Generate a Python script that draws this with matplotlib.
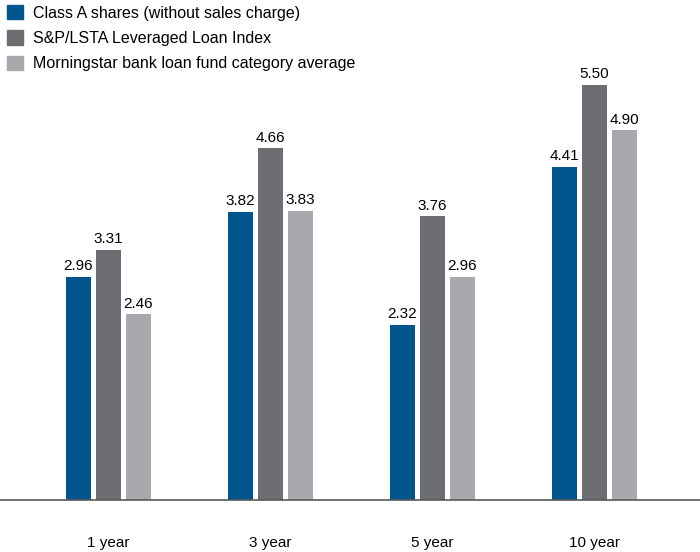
import numpy as np
import matplotlib
matplotlib.use("Agg")
import matplotlib.pyplot as plt
from matplotlib.patches import Patch

plt.rcParams["font.family"] = ["Liberation Sans", "DejaVu Sans"]

periods = ["1 year", "3 year", "5 year", "10 year"]
series = ["Class A shares (without sales charge)",
          "S&P/LSTA Leveraged Loan Index",
          "Morningstar bank loan fund category average"]
class_a = [2.96, 3.82, 2.32, 4.41]
index = [3.31, 4.66, 3.76, 5.50]
category = [2.46, 3.83, 2.96, 4.90]
colors = ["#00558c", "#6d6e71", "#a7a9ac"]

fig = plt.figure(figsize=(7, 5.52), dpi=100)
ax = fig.add_axes([0, 52 / 552, 1, 500 / 552])

x = np.arange(len(periods))
width = 25 / 162
step = 30 / 162
for i, (vals, c, lbl) in enumerate(zip([class_a, index, category], colors, series)):
    pos = x + (i - 1) * step
    ax.bar(pos, vals, width, color=c, label=lbl)
    for p, v in zip(pos, vals):
        ax.text(p, v + 0.05, f"{v:.2f}", ha="center", va="bottom", fontsize=11)

ax.set_xlim(-108 / 162, 592 / 162)
ax.set_ylim(0, 500 / 75.45)
for s in ["top", "right", "left"]:
    ax.spines[s].set_visible(False)
ax.spines["bottom"].set_color("#58595b")
ax.spines["bottom"].set_linewidth(1.2)
ax.set_yticks([])
ax.set_xticks(x)
ax.set_xticklabels(periods, fontsize=11)
ax.tick_params(axis="x", length=0, pad=26)

handles = [Patch(color=c) for c in colors]
fig.legend(handles, series, loc="upper left", bbox_to_anchor=(-0.003, 1.008),
           frameon=False, fontsize=11.5, handlelength=1.0, handleheight=1.0,
           handletextpad=0.6, labelspacing=0.6, borderaxespad=0.2)

fig.savefig("out.png", dpi=100)
